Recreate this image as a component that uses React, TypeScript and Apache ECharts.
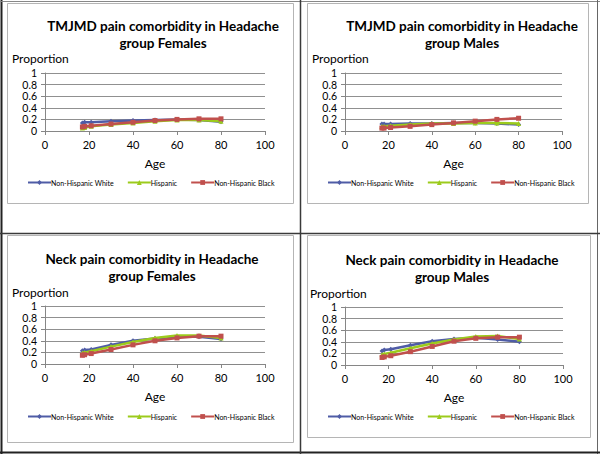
import React, { useEffect, useRef } from "react";
import * as echarts from "echarts";

const ages = [17, 18, 21, 30, 40, 50, 60, 70, 80];
const seriesNames = ["Non-Hispanic White", "Hispanic", "Non-Hispanic Black"];
const yTicks = [0, 0.2, 0.4, 0.6, 0.8, 1];
const xTicks = [0, 20, 40, 60, 80, 100];

const tmjFemWhite = [0.14, 0.15, 0.15, 0.17, 0.18, 0.19, 0.2, 0.19, 0.16];
const tmjFemHisp = [0.05, 0.06, 0.08, 0.11, 0.14, 0.17, 0.19, 0.19, 0.17];
const tmjFemBlack = [0.07, 0.08, 0.09, 0.12, 0.15, 0.18, 0.2, 0.21, 0.21];

const tmjMaleWhite = [0.12, 0.12, 0.12, 0.13, 0.13, 0.14, 0.14, 0.13, 0.11];
const tmjMaleHisp = [0.08, 0.08, 0.09, 0.11, 0.13, 0.13, 0.14, 0.14, 0.13];
const tmjMaleBlack = [0.05, 0.05, 0.06, 0.08, 0.11, 0.14, 0.17, 0.2, 0.22];

const neckFemWhite = [0.23, 0.24, 0.25, 0.33, 0.4, 0.44, 0.47, 0.47, 0.43];
const neckFemHisp = [0.19, 0.2, 0.22, 0.3, 0.38, 0.45, 0.49, 0.49, 0.45];
const neckFemBlack = [0.15, 0.16, 0.18, 0.25, 0.33, 0.4, 0.45, 0.48, 0.48];

const neckMaleWhite = [0.24, 0.26, 0.27, 0.34, 0.41, 0.45, 0.47, 0.44, 0.4];
const neckMaleHisp = [0.18, 0.19, 0.21, 0.29, 0.37, 0.44, 0.49, 0.5, 0.45];
const neckMaleBlack = [0.13, 0.14, 0.16, 0.23, 0.32, 0.41, 0.46, 0.48, 0.48];

const titles = [
  "TMJMD pain comorbidity in Headache\ngroup Females",
  "TMJMD pain comorbidity in Headache\ngroup Males",
  "Neck pain comorbidity in Headache\ngroup Females",
  "Neck pain comorbidity in Headache\ngroup Males",
];

const panelData = [
  [tmjFemWhite, tmjFemHisp, tmjFemBlack],
  [tmjMaleWhite, tmjMaleHisp, tmjMaleBlack],
  [neckFemWhite, neckFemHisp, neckFemBlack],
  [neckMaleWhite, neckMaleHisp, neckMaleBlack],
];

const colors = ["#4F5CA6", "#9CCB1C", "#C0504D"];
const symbols = ["diamond", "triangle", "rect"];

// layout (positions only)
const grids = [
  { left: 45, top: 73, width: 220, height: 58 },
  { left: 345, top: 73, width: 217, height: 58 },
  { left: 45, top: 306, width: 220, height: 58 },
  { left: 345, top: 307, width: 218, height: 58 },
];
const titlePos = [
  { x: 158, y: 13 },
  { x: 457, y: 13 },
  { x: 147, y: 246 },
  { x: 447, y: 247 },
];
const legendPos = [
  { x: 27, y: 179 },
  { x: 327, y: 179 },
  { x: 27, y: 413 },
  { x: 327, y: 413 },
];
const propPos = [
  { x: 12, y: 52 },
  { x: 312, y: 52 },
  { x: 12, y: 286 },
  { x: 310, y: 287 },
];

const FONT = "Lato, 'Liberation Sans', sans-serif";

export default function App() {
  const ref = useRef<HTMLDivElement>(null);
  useEffect(() => {
    if (!ref.current) return;
    const chart = echarts.init(ref.current, null, { renderer: "svg" });

    const title: any[] = [];
    const grid: any[] = [];
    const xAxis: any[] = [];
    const yAxis: any[] = [];
    const legend: any[] = [];
    const series: any[] = [];

    for (let p = 0; p < 4; p++) {
      title.push({
        text: titles[p],
        left: titlePos[p].x,
        top: titlePos[p].y,
        textAlign: "center",
        textStyle: {
          fontFamily: FONT,
          fontSize: 13.5,
          fontWeight: "bold",
          color: "#000",
          lineHeight: 16.5,
        },
      });
      grid.push({ ...grids[p], containLabel: false });
      xAxis.push({
        type: "value",
        gridIndex: p,
        min: xTicks[0],
        max: xTicks[xTicks.length - 1],
        interval: 20,
        name: "Age",
        nameLocation: "middle",
        nameGap: 26,
        nameTextStyle: { fontFamily: FONT, fontSize: 12, color: "#000" },
        axisLine: { show: true, onZero: false, lineStyle: { color: "#868686", width: 1 } },
        axisTick: { show: true, length: 4, lineStyle: { color: "#868686" } },
        axisLabel: { fontFamily: FONT, fontSize: 11, color: "#000", margin: 8 },
        splitLine: { show: false },
      });
      yAxis.push({
        type: "value",
        gridIndex: p,
        min: yTicks[0],
        max: yTicks[yTicks.length - 1],
        interval: 0.2,
        axisLine: { show: true, lineStyle: { color: "#868686", width: 1 } },
        axisTick: { show: true, length: 4, lineStyle: { color: "#868686" } },
        axisLabel: { fontFamily: FONT, fontSize: 10.5, lineHeight: 10.5, color: "#000", margin: 8 },
        splitLine: { show: true, lineStyle: { color: "#909090", width: 1 } },
      });
      legend.push({
        left: legendPos[p].x,
        top: legendPos[p].y,
        width: 280,
        orient: "horizontal",
        itemWidth: 23,
        itemHeight: 6,
        itemGap: 13,
        padding: 0,
        data: seriesNames,
        textStyle: { fontFamily: FONT, fontSize: 7, color: "#000", padding: [0, 0, 0, -5] },
      });
      for (let s = 0; s < 3; s++) {
        series.push({
          type: "line",
          name: seriesNames[s],
          xAxisIndex: p,
          yAxisIndex: p,
          data: ages.map((a, i) => [a, panelData[p][s][i]]),
          symbol: symbols[s],
          symbolSize: 5,
          showSymbol: true,
          color: colors[s],
          lineStyle: { width: 2.5, color: colors[s] },
          itemStyle: { color: colors[s] },
          z: 3 + s,
        });
      }
    }

    const dark = "#3a3a3a";
    const light = "#b5b5b5";
    const graphic: any[] = [
      { type: "line", shape: { x1: 1.5, y1: 0, x2: 1.5, y2: 454 }, style: { stroke: "#222", lineWidth: 2 } },
      { type: "line", shape: { x1: 0, y1: 1.5, x2: 600, y2: 1.5 }, style: { stroke: "#888", lineWidth: 1 } },
      { type: "line", shape: { x1: 597.5, y1: 0, x2: 597.5, y2: 454 }, style: { stroke: "#666", lineWidth: 1 } },
      { type: "line", shape: { x1: 0, y1: 452.5, x2: 600, y2: 452.5 }, style: { stroke: "#222", lineWidth: 2 } },
      { type: "line", shape: { x1: 300.5, y1: 0, x2: 300.5, y2: 454 }, style: { stroke: dark, lineWidth: 1.5 } },
      { type: "line", shape: { x1: 0, y1: 233.5, x2: 600, y2: 233.5 }, style: { stroke: dark, lineWidth: 1.5 } },
      { type: "rect", shape: { x: 7.5, y: 3.5, width: 286, height: 200 }, style: { fill: "none", stroke: light, lineWidth: 1 } },
      { type: "rect", shape: { x: 307.5, y: 3.5, width: 281, height: 200 }, style: { fill: "none", stroke: light, lineWidth: 1 } },
      { type: "rect", shape: { x: 7.5, y: 235.5, width: 286, height: 207 }, style: { fill: "none", stroke: light, lineWidth: 1 } },
      { type: "rect", shape: { x: 307.5, y: 235.5, width: 283, height: 202 }, style: { fill: "none", stroke: light, lineWidth: 1 } },
    ];
    for (let p = 0; p < 4; p++) {
      graphic.push({
        type: "text",
        x: propPos[p].x,
        y: propPos[p].y,
        style: { text: "Proportion", font: `12px ${FONT}`, fill: "#000" },
      });
    }

    chart.setOption({
      animation: false,
      backgroundColor: "#fff",
      title,
      grid,
      xAxis,
      yAxis,
      legend,
      series,
      graphic,
    });
    return () => chart.dispose();
  }, []);
  return (
    <div
      ref={ref}
      style={{ position: "fixed", left: 0, top: 0, width: 600, height: 454 }}
    />
  );
}
